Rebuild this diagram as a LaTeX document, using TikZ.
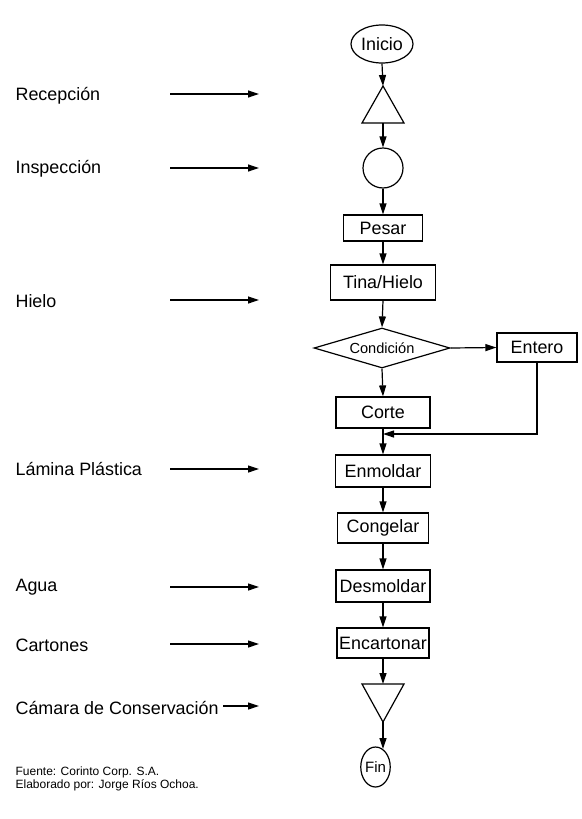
\documentclass[tikz,border=0pt]{standalone}
\usepackage{fontspec}
\setmainfont{Liberation Sans}
\usetikzlibrary{shapes.geometric,arrows.meta}
\begin{document}
\begin{tikzpicture}[x=1pt,y=-1pt,line width=1.2pt,
  arr/.style={-{Triangle[length=11pt,width=7pt]}},
  box/.style={draw,rectangle,inner sep=0pt,font=\fontsize{17.9}{20}\selectfont},
  ell/.style={draw,ellipse,inner sep=0pt,font=\fontsize{17.9}{20}\selectfont},
  lbl/.style={anchor=west,inner sep=0pt,font=\fontsize{17.9}{20}\selectfont},
  foot/.style={anchor=west,inner sep=0pt,font=\fontsize{12}{13}\selectfont}]
\useasboundingbox (0,0) rectangle (581,819);
% main column
\node[ell,minimum width=62pt,minimum height=38pt] (inicio) at (382,44) {Inicio};
\draw (383,86) -- (404,123) -- (362,123) -- cycle;
\coordinate (t1a) at (383,86);
\coordinate (t1b) at (383,123);
\node[draw,circle,minimum size=40pt,inner sep=0pt] (circ) at (383,168) {};
\node[box,minimum width=79pt,minimum height=26pt] (pesar) at (383,228) {Pesar};
\node[box,minimum width=105pt,minimum height=35pt] (tina) at (383,282.5) {Tina/Hielo};
\node[draw,diamond,aspect=3.4,inner sep=0pt,minimum width=136pt,minimum height=40pt,
      font=\fontsize{14.6}{16}\selectfont] (cond) at (382,348) {Condición};
\node[box,minimum width=80pt,minimum height=29pt] (entero) at (537,347.5) {Entero};
\node[box,minimum width=94pt,minimum height=31pt] (corte) at (383,412.5) {Corte};
\coordinate (jn) at (383,434);
\node[box,minimum width=95pt,minimum height=32pt] (enmoldar) at (383,471) {Enmoldar};
\node[box,minimum width=91pt,minimum height=30pt] (congelar) at (383,528) {Congelar};
\node[box,minimum width=94pt,minimum height=32pt] (desmoldar) at (383,586) {Desmoldar};
\node[box,minimum width=92pt,minimum height=30pt] (encartonar) at (383,643) {Encartonar};
\draw (362,684) -- (404,684) -- (383,722) -- cycle;
\coordinate (t2a) at (383,684);
\coordinate (t2b) at (383,722);
\node[ell,minimum width=29pt,minimum height=40pt,font=\fontsize{15}{16}\selectfont] (fin) at (375.5,767) {Fin};
\coordinate (finin) at (383,749);
% connectors
\draw[arr] (inicio.south) -- (t1a);
\draw[arr] (t1b) -- (circ.north);
\draw[arr] (circ.south) -- (pesar.north);
\draw[arr] (pesar.south) -- (tina.north);
\draw[arr] (tina.south) -- (cond.north);
\draw[arr] (cond.east) -- (entero.west);
\draw[arr] (cond.south) -- (corte.north);
\draw[arr] (corte.south) -- (enmoldar.north);
\draw[arr] (entero.south) |- (jn);
\draw[arr] (enmoldar.south) -- (congelar.north);
\draw[arr] (congelar.south) -- (desmoldar.north);
\draw[arr] (desmoldar.south) -- (encartonar.north);
\draw[arr] (encartonar.south) -- (t2a);
\draw[arr] (t2b) -- (finin);
% left labels
\node[lbl] (l1) at (15,96) {Recepción};
\node[lbl] (l2) at (15,169) {Inspección};
\node[lbl] (l3) at (15,301) {Hielo};
\node[lbl] (l4) at (15,469) {Lámina Plástica};
\node[lbl] (l5) at (15,587) {Agua};
\node[lbl] (l6) at (15,645) {Cartones};
\node[lbl] (l7) at (15,708) {Cámara de Conservación};
\coordinate (a1s) at (170,94);  \coordinate (a1e) at (259,94);
\coordinate (a2s) at (170,168); \coordinate (a2e) at (259,168);
\coordinate (a3s) at (170,300); \coordinate (a3e) at (259,300);
\coordinate (a4s) at (170,469); \coordinate (a4e) at (259,469);
\coordinate (a5s) at (170,587); \coordinate (a5e) at (259,587);
\coordinate (a6s) at (170,644); \coordinate (a6e) at (259,644);
\coordinate (a7s) at (223,706); \coordinate (a7e) at (259,706);
\foreach \i in {1,...,7} {\draw[arr] (a\i s) -- (a\i e);}
% footer
\node[foot] (f1) at (15,772) {Fuente: Corinto Corp. S.A.};
\node[foot] (f2) at (15,785.5) {Elaborado por: Jorge Ríos Ochoa.};
\end{tikzpicture}
\end{document}
